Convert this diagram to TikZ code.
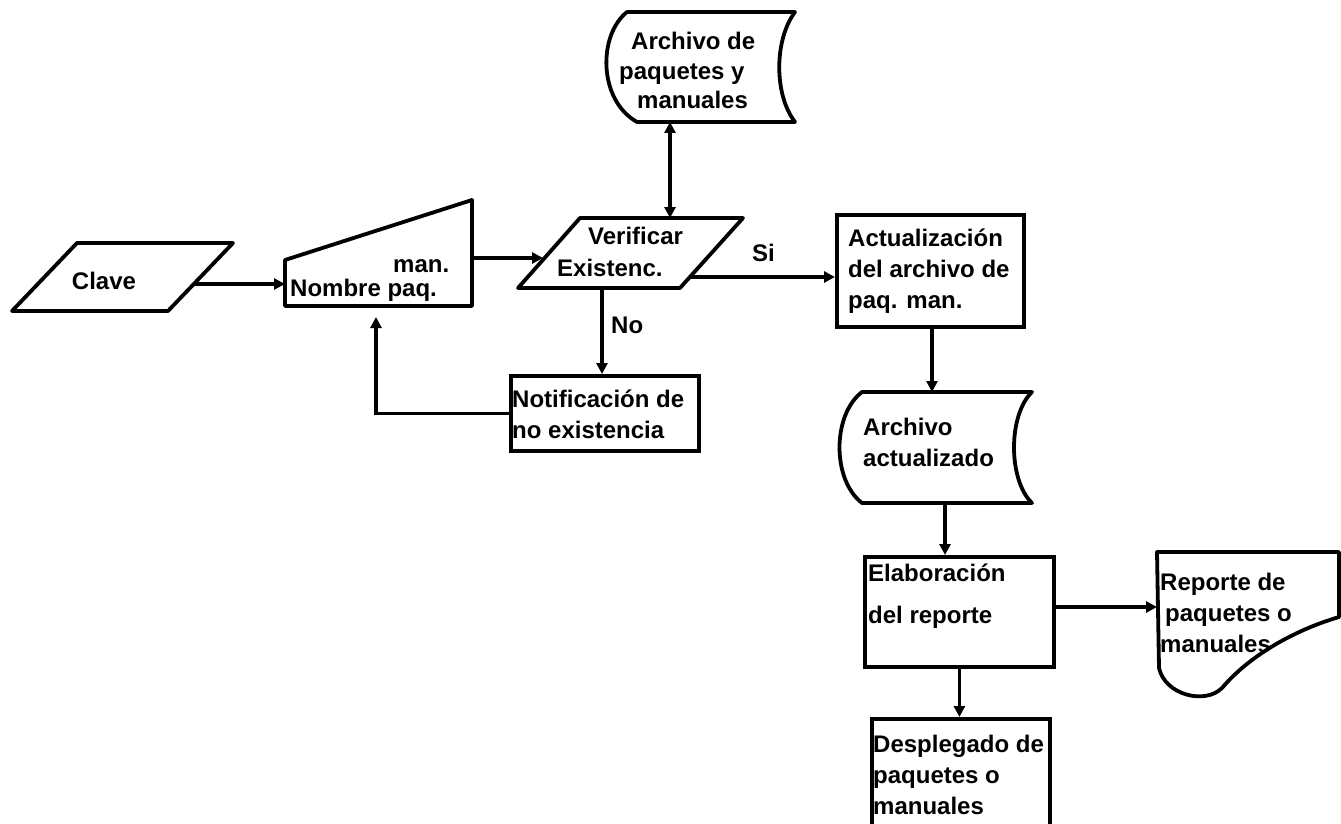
\documentclass[tikz,border=0pt]{standalone}
\usepackage{fontspec}
\setmainfont{Liberation Sans}
\usetikzlibrary{arrows.meta,calc}
\begin{document}
\begin{tikzpicture}[x=1pt,y=-1pt,
  shp/.style={draw, line width=3.8pt, line join=round},
  arr/.style={draw, line width=3.8pt, -{Triangle[length=11pt,width=11pt]}},
  txt/.style={font=\fontsize{24}{31}\selectfont\bfseries, inner sep=0pt, align=left, anchor=west},
  box/.style={draw, line width=3.8pt, inner sep=0pt, anchor=north west}]
\useasboundingbox (0,0) rectangle (1341,824);
\clip (0,0) rectangle (1341,824);

% --- input: Clave
\draw[shp] (12,311) -- (77,243) -- (233,243) -- (168,311) -- cycle;
\coordinate (claveR) at (194,284);
\node[txt, anchor=center] (tclave) at (104,281) {Clave};

% --- manual input: Nombre paq. man.
\draw[shp] (285,260) -- (472,200) -- (472,306) -- (285,306) -- cycle;
\coordinate (nomL) at (285,284);
\coordinate (nomR) at (472,258);
\coordinate (nomUp) at (376,317);
\node[txt] (tman) at (393,266) {man.};
\node[txt] (tnom) at (290,290) {Nombre paq.};

% --- decision: Verificar Existenc.
\draw[shp] (518,288) -- (580,218) -- (743,218) -- (680,288) -- cycle;
\coordinate (verL) at (543,258);
\coordinate (verT) at (670,218);
\coordinate (verR) at (690,277);
\coordinate (verB) at (602,288);
\node[txt] (tver1) at (588,236) {Verificar};
\node[txt] (tver2) at (557,268) {Existenc.};

% --- stored data: Archivo de paquetes y manuales
\draw[shp] (627,12) -- (795,12) .. controls (774,40) and (774,95) .. (795,122)
  -- (637,122) .. controls (598,100) and (598,35) .. (627,12) -- cycle;
\coordinate (archB) at (670,122);
\node[txt, anchor=base west] (tarch1) at (631,50) {Archivo de};
\node[txt, anchor=base west] (tarch2) at (619,80) {paquetes y};
\node[txt, anchor=base west] (tarch3) at (637,109) {manuales};

% --- process boxes
\node[box, minimum width=188pt, minimum height=75pt] (notif) at (509,374) {};
\node[txt] (tnot) at (512,414) {Notificación de\\no existencia};

\node[box, minimum width=187pt, minimum height=112pt] (act) at (835,213) {};
\node[txt] (tact) at (848,271) {Actualización\\del archivo de\\paq. man.};

% --- stored data: Archivo actualizado
\draw[shp] (862,392) -- (1032,392) .. controls (1008,415) and (1008,480) .. (1032,503)
  -- (862,503) .. controls (832,480) and (832,415) .. (862,392) -- cycle;
\coordinate (aaT) at (932,392);
\coordinate (aaB) at (945,503);
\node[txt] (taa) at (863,442) {Archivo\\actualizado};

\node[box, minimum width=189pt, minimum height=110pt] (elab) at (863,555) {};
\node[txt, font=\fontsize{24}{42}\selectfont\bfseries] (telab) at (868,596) {Elaboración\\del reporte};

% --- document: Reporte de paquetes o manuales
\draw[shp] (1157,552) -- (1339,552) -- (1339,617) .. controls (1295,630) and (1250,655) .. (1222,688)
  .. controls (1205,705) and (1165,695) .. (1159,668) -- cycle;
\coordinate (repL) at (1157,607);
\node[txt] (trep) at (1160,613) {Reporte de\\\hspace{5pt}paquetes o\\manuales};

\node[box, minimum width=178pt, minimum height=130pt] (desp) at (870,717) {};
\node[txt] (tdesp) at (873,775) {Desplegado de\\paquetes o\\manuales};

% --- connectors
\draw[arr] (claveR) -- (nomL);
\draw[arr] (nomR) -- (verL);
\draw[arr, {Triangle[length=11pt,width=11pt]}-{Triangle[length=11pt,width=11pt]}] (archB) -- (verT);
\draw[arr] (verR) -- (verR -| act.west);
\node[txt] (tsi) at (752,253) {Si};
\draw[arr] (verB) -- (verB |- notif.north);
\node[txt] (tno) at (611,325) {No};
\draw[arr] (notif.west) -| (nomUp);
\draw[arr] (act.south -| aaT) -- (aaT);
\draw[arr] (aaB) -- (aaB |- elab.north);
\draw[arr] (elab.east |- repL) -- (repL);
\draw[arr] (elab.south) -- (elab.south |- desp.north);
\end{tikzpicture}
\end{document}
